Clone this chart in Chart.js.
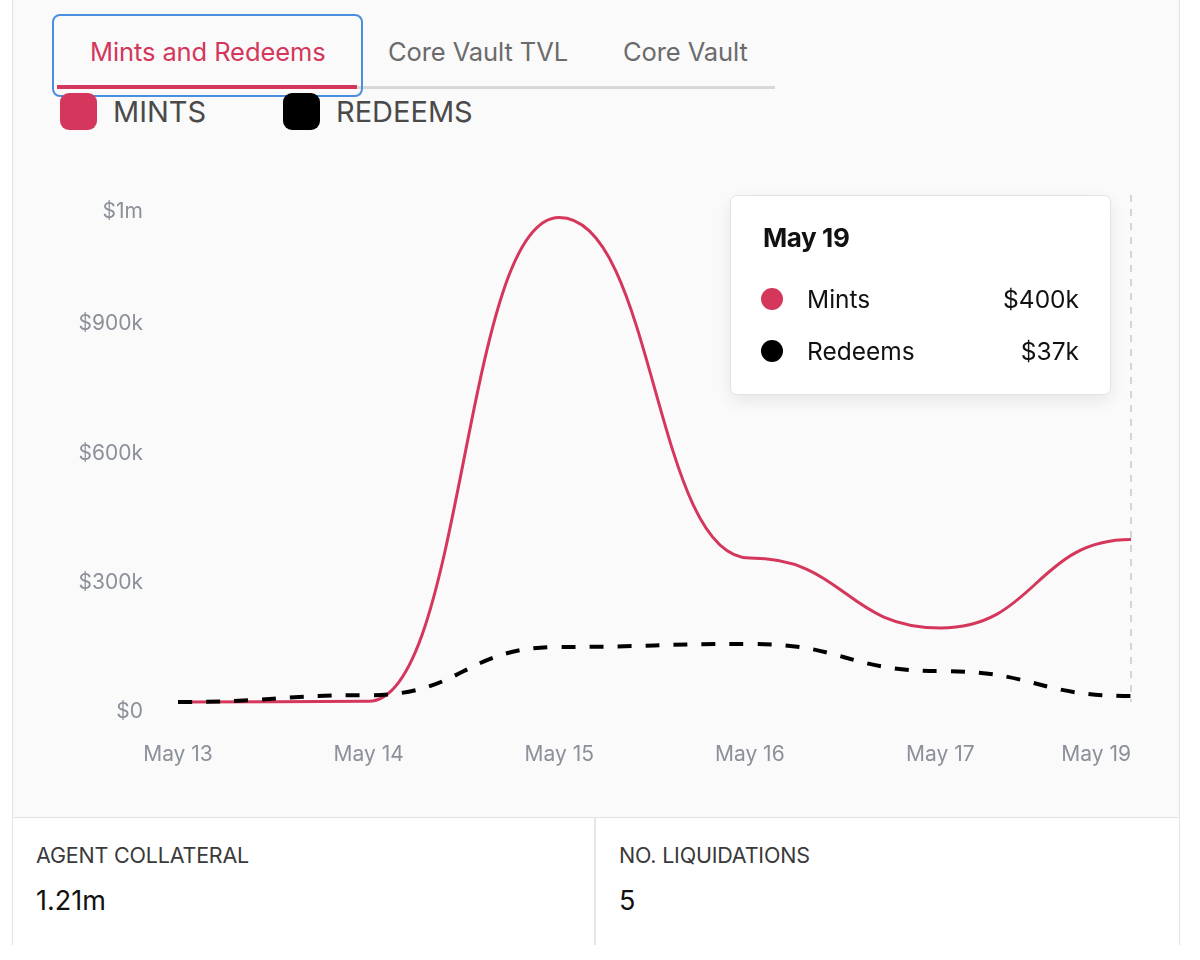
<!DOCTYPE html>
<html>
<head>
<meta charset="utf-8">
<script src="https://cdn.jsdelivr.net/npm/chart.js@4"></script>
<style>
  body { margin: 0; background: #fff; font-family: Inter, "Noto Sans", sans-serif; width: 1200px; height: 960px; position: relative; overflow: hidden; }
  .card { position: absolute; left: 12px; top: -2px; width: 1166px; height: 945px; background: #fafafa; border: 1.5px solid #e2e2e2; }
  .tab { position: absolute; top: 36px; font-size: 25.5px; color: #6b6b6b; letter-spacing: -0.1px; }
  .tab.active { color: #d4375b; }
  .tabline { position: absolute; left: 57px; top: 86px; width: 718px; height: 3px; background: #d8d8d8; }
  .tabline-active { position: absolute; left: 57px; top: 85px; width: 300px; height: 4px; background: #d4375b; }
  .focus { position: absolute; left: 52px; top: 14px; width: 307px; height: 79px; border: 2.5px solid #4a8fdf; border-radius: 8px; }
  .legend { position: absolute; top: 93px; display: flex; align-items: center; font-size: 29px; color: #4a4a4a; }
  .legend .sw { width: 37px; height: 37px; border-radius: 9px; margin-right: 16px; }
  .chartbox { position: absolute; left: 12px; top: 150px; width: 1168px; height: 650px; }
  .stats { position: absolute; left: 13px; top: 817px; width: 1166px; height: 127px; background: #fff; border-top: 1.5px solid #e2e2e2; }
  .stat { position: absolute; top: 0; height: 127px; }
  .stat .k { position: absolute; top: 24px; font-size: 21.5px; color: #3a3a3a; white-space: nowrap; letter-spacing: -0.2px; }
  .stat .v { position: absolute; top: 66px; font-size: 27px; color: #111; }
  .divider { position: absolute; left: 581px; top: 0; width: 1.5px; height: 127px; background: #e6e6e6; }
  #tip { position: absolute; display: none; background: #fff; border: 1px solid #e3e3e3; border-radius: 7px; box-shadow: 0 6px 16px rgba(0,0,0,0.08); box-sizing: border-box; padding: 26px 31px 0 32px; color: #111; }
  #tip .t { font-size: 26px; font-weight: 700; letter-spacing: -0.4px; margin-bottom: 20px; }
  #tip .row { display: flex; align-items: center; font-size: 24.5px; height: 52px; }
  #tip .dot { width: 22px; height: 22px; border-radius: 50%; margin-left: -2px; margin-right: 24px; }
  #tip .lab { flex: 1; }
</style>
</head>
<body>
<div class="card"></div>
<div class="tabline"></div>
<div class="tabline-active"></div>
<div class="tab active" style="left:90px">Mints and Redeems</div>
<div class="tab" style="left:388px">Core Vault TVL</div>
<div class="tab" style="left:623px">Core Vault</div>
<div class="focus"></div>
<div class="legend" style="left:60px"><div class="sw" style="background:#d4375b"></div>MINTS</div>
<div class="legend" style="left:283px"><div class="sw" style="background:#000"></div>REDEEMS</div>

<div class="chartbox"><canvas id="flowChart"></canvas></div>
<div id="tip"></div>

<div class="stats">
  <div class="stat" style="left:23px"><div class="k">AGENT COLLATERAL</div><div class="v">1.21m</div></div>
  <div class="divider"></div>
  <div class="stat" style="left:606px"><div class="k">NO. LIQUIDATIONS</div><div class="v">5</div></div>
</div>

<script>
const days = ['May 13', 'May 14', 'May 15', 'May 16', 'May 17', 'May 19'];
const mints = [23000, 25000, 1147000, 357000, 195000, 400000];
const redeems = [23000, 39000, 151000, 158000, 95000, 37000];
const yTicks = [0, 300000, 600000, 900000, 1160000];

const RED = '#d4375b';
const FONT = 'Inter, "Noto Sans", sans-serif';

function money(v) {
    if (v >= 1000000) return '$' + Math.floor(v / 1000000) + 'm';
    if (v === 0) return '$0';
    return '$' + Math.round(v / 1000) + 'k';
}

// "bump" curve: flat tangent at every point, control points half way between days
const bumpCurve = {
    id: 'bumpCurve',
    beforeDatasetsDraw(chart) {
        chart.getSortedVisibleDatasetMetas().forEach(meta => {
            const line = meta.dataset;
            line.updateControlPoints(chart.chartArea, 'x');
            const pts = line.points;
            pts.forEach((p, i) => {
                const prev = pts[i - 1], next = pts[i + 1];
                p.cp1x = prev ? (prev.x + p.x) / 2 : p.x;
                p.cp1y = p.y;
                p.cp2x = next ? (p.x + next.x) / 2 : p.x;
                p.cp2y = p.y;
            });
        });
    }
};

// x labels drawn from the category scale, last one kept inside the plot
const xLabels = {
    id: 'xLabels',
    afterDraw(chart) {
        const { ctx, scales: { x } } = chart;
        ctx.save();
        ctx.font = '21px ' + FONT;
        ctx.fillStyle = '#8b9099';
        ctx.textBaseline = 'middle';
        days.forEach((d, i) => {
            ctx.textAlign = i === days.length - 1 ? 'right' : 'center';
            ctx.fillText(d, x.getPixelForValue(i), chart.chartArea.bottom + 43);
        });
        ctx.restore();
    }
};

// dashed cursor at the hovered day
const cursor = {
    id: 'cursor',
    afterDatasetsDraw(chart) {
        const active = chart.tooltip.getActiveElements();
        if (!active.length) return;
        const { ctx, chartArea } = chart;
        const xPos = active[0].element.x;
        ctx.save();
        ctx.strokeStyle = '#c9c9cc';
        ctx.lineWidth = 1.5;
        ctx.setLineDash([7, 7]);
        ctx.beginPath();
        ctx.moveTo(xPos, chartArea.top - 17);
        ctx.lineTo(xPos, chartArea.bottom - 10);
        ctx.stroke();
        ctx.restore();
    }
};

function externalTip({ chart, tooltip }) {
    const el = document.getElementById('tip');
    if (tooltip.opacity === 0) { el.style.display = 'none'; return; }
    let html = '<div class="t">' + tooltip.title[0] + '</div>';
    tooltip.dataPoints.slice().sort((a, b) => a.datasetIndex - b.datasetIndex).forEach(p => {
        html += '<div class="row"><div class="dot" style="background:' + p.dataset.borderColor +
            '"></div><div class="lab">' + p.dataset.label + '</div><div>' + money(p.raw) + '</div></div>';
    });
    el.innerHTML = html;
    el.style.display = 'block';
    el.style.width = '381px';
    el.style.height = '200px';
    const box = chart.canvas.getBoundingClientRect();
    el.style.left = (box.left + tooltip.caretX - 20 - 381) + 'px';
    el.style.top = (box.top + chart.chartArea.top - 17) + 'px';
}

const chart = new Chart(document.getElementById('flowChart'), {
    type: 'line',
    data: {
        labels: days,
        datasets: [
            {
                label: 'Mints',
                data: mints,
                borderColor: RED,
                backgroundColor: RED,
                borderWidth: 3,
                cubicInterpolationMode: 'monotone',
                pointRadius: 0,
                pointHoverRadius: 0,
                order: 2
            },
            {
                label: 'Redeems',
                data: redeems,
                borderColor: '#000',
                backgroundColor: '#000',
                borderWidth: 4,
                borderDash: [14, 14],
                cubicInterpolationMode: 'monotone',
                pointRadius: 0,
                pointHoverRadius: 0,
                order: 1
            }
        ]
    },
    options: {
        responsive: true,
        maintainAspectRatio: false,
        animation: false,
        layout: { padding: { top: 62, right: 49, left: 0, bottom: 0 } },
        interaction: { mode: 'index', intersect: false },
        plugins: {
            legend: { display: false },
            tooltip: { enabled: false, external: externalTip }
        },
        scales: {
            x: {
                grid: { display: false, drawTicks: false },
                border: { display: false },
                ticks: { display: false },
                afterFit: s => { s.height = 88; }
            },
            y: {
                min: 0,
                max: 1160000,
                grid: { display: false, drawTicks: false },
                border: { display: false },
                afterBuildTicks: s => { s.ticks = yTicks.map(v => ({ value: v })); },
                afterFit: s => { s.width = 166; },
                ticks: {
                    padding: 35,
                    color: '#8b9099',
                    font: { family: FONT, size: 21 },
                    callback: v => money(v)
                }
            }
        }
    },
    plugins: [bumpCurve, xLabels, cursor]
});

// show the last day as in the screenshot
const last = days.length - 1;
const pt = chart.getDatasetMeta(0).data[last];
chart.tooltip.setActiveElements(
    [{ datasetIndex: 0, index: last }, { datasetIndex: 1, index: last }],
    { x: pt.x, y: pt.y }
);
chart.setActiveElements([{ datasetIndex: 0, index: last }, { datasetIndex: 1, index: last }]);
chart.update();
</script>
</body>
</html>
